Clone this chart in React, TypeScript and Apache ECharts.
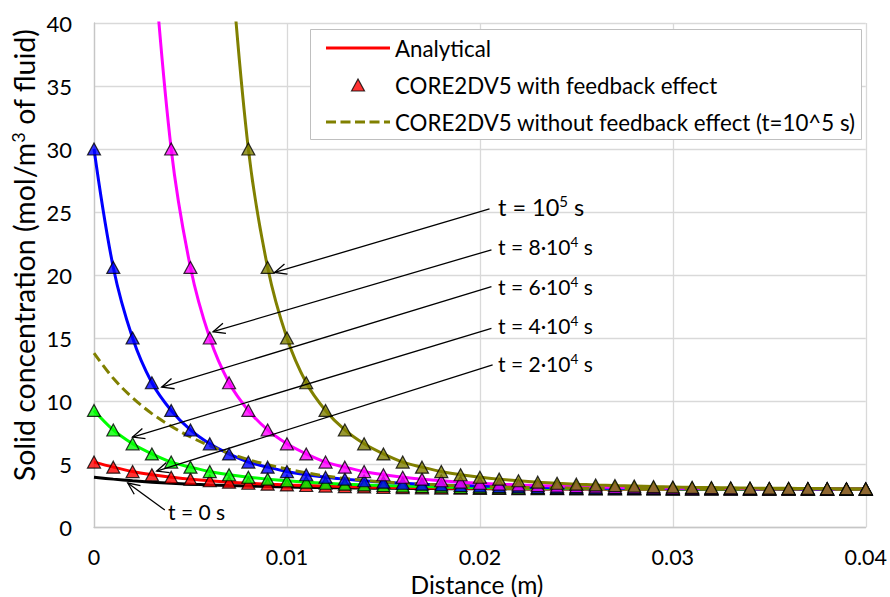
import React, { useEffect, useRef } from 'react';
import * as echarts from 'echarts';

// Distance (m)
const distance = [
  0, 0.001, 0.002, 0.003, 0.004, 0.005, 0.006, 0.007, 0.008, 0.009,
  0.01, 0.011, 0.012, 0.013, 0.014, 0.015, 0.016, 0.017, 0.018, 0.019,
  0.02, 0.021, 0.022, 0.023, 0.024, 0.025, 0.026, 0.027, 0.028, 0.029,
  0.03, 0.031, 0.032, 0.033, 0.034, 0.035, 0.036, 0.037, 0.038, 0.039, 0.04,
];

// t = 0 s (black)
const conc0 = [
  3.95, 3.8, 3.67, 3.56, 3.47, 3.4, 3.34, 3.29, 3.25, 3.21, 3.18, 3.15, 3.13, 3.11,
  3.09, 3.08, 3.07, 3.06, 3.05, 3.04, 3.04, 3.03, 3.03, 3.02, 3.02, 3.02, 3.01, 3.01,
  3.01, 3.01, 3.01, 3.0, 3.0, 3.0, 3.0, 3.0, 3.0, 3.0, 3.0, 3.0, 3.0,
];
// t = 2e4 s (red)
const conc2e4 = [
  5.15, 4.75, 4.4, 4.15, 3.95, 3.8, 3.67, 3.56, 3.47, 3.4, 3.34, 3.29, 3.25, 3.21,
  3.18, 3.15, 3.13, 3.11, 3.09, 3.08, 3.07, 3.06, 3.05, 3.04, 3.04, 3.03, 3.03, 3.02,
  3.02, 3.02, 3.01, 3.01, 3.01, 3.01, 3.01, 3.0, 3.0, 3.0, 3.0, 3.0, 3.0,
];
// t = 4e4 s (green)
const conc4e4 = [
  9.25, 7.7, 6.6, 5.8, 5.15, 4.75, 4.4, 4.15, 3.95, 3.8, 3.67, 3.56, 3.47, 3.4,
  3.34, 3.29, 3.25, 3.21, 3.18, 3.15, 3.13, 3.11, 3.09, 3.08, 3.07, 3.06, 3.05, 3.04,
  3.04, 3.03, 3.03, 3.02, 3.02, 3.02, 3.01, 3.01, 3.01, 3.01, 3.01, 3.0, 3.0,
];
// t = 6e4 s (blue)
const conc6e4 = [
  30, 20.6, 15.0, 11.45, 9.25, 7.7, 6.6, 5.8, 5.15, 4.75, 4.4, 4.15, 3.95, 3.8,
  3.67, 3.56, 3.47, 3.4, 3.34, 3.29, 3.25, 3.21, 3.18, 3.15, 3.13, 3.11, 3.09, 3.08,
  3.07, 3.06, 3.05, 3.04, 3.04, 3.03, 3.03, 3.02, 3.02, 3.02, 3.01, 3.01, 3.01,
];
// t = 8e4 s (magenta)
const conc8e4 = [
  null, null, null, 47, 30, 20.6, 15.0, 11.45, 9.25, 7.7, 6.6, 5.8, 5.15, 4.75,
  4.4, 4.15, 3.95, 3.8, 3.67, 3.56, 3.47, 3.4, 3.34, 3.29, 3.25, 3.21, 3.18, 3.15,
  3.13, 3.11, 3.09, 3.08, 3.07, 3.06, 3.05, 3.04, 3.04, 3.03, 3.03, 3.02, 3.02,
];
// t = 1e5 s (olive)
const conc1e5 = [
  null, null, null, null, null, null, null, 47, 30, 20.6, 15.0, 11.45, 9.25, 7.7,
  6.6, 5.8, 5.15, 4.75, 4.4, 4.15, 3.95, 3.8, 3.67, 3.56, 3.47, 3.4, 3.34, 3.29,
  3.25, 3.21, 3.18, 3.15, 3.13, 3.11, 3.09, 3.08, 3.07, 3.06, 3.05, 3.04, 3.04,
];
// CORE2DV5 without feedback effect, t = 1e5 s (olive dashed)
const concNoFeedback = [
  13.8, 11.8, 10.25, 9.0, 8.0, 7.15, 6.45, 5.85, 5.35, 4.95, 4.6, 4.3, 4.05, 3.85,
  3.7, 3.58, 3.48, 3.4, 3.33, 3.27, 3.22, 3.18, 3.15, 3.12, 3.1, 3.08, 3.07, 3.06,
  3.05, 3.04, 3.03, 3.03, 3.02, 3.02, 3.02, 3.01, 3.01, 3.01, 3.01, 3.0, 3.0,
];

const xTickLabels = ['0', '0.01', '0.02', '0.03', '0.04'];
const yTickLabels = ['0', '5', '10', '15', '20', '25', '30', '35', '40'];

const legendNames = [
  'Analytical',
  'CORE2DV5 with feedback effect',
  'CORE2DV5 without feedback effect (t=10^5 s)',
];

// annotation arrows: [tailX, tailY, tipX, tipY] in data units
const arrows = [
  [0.0205, 25.24, 0.00936, 20.2],
  [0.0206, 22.0, 0.00617, 15.5],
  [0.0206, 19.07, 0.00351, 11.1],
  [0.0206, 15.77, 0.002, 7.14],
  [0.02066, 12.86, 0.00325, 4.44],
  [0.00367, 1.35, 0.00175, 3.49],
];

const FONT = 'Lato, "Noto Sans", sans-serif';

function pairs(ys: (number | null)[]) {
  const out: number[][] = [];
  ys.forEach((y, i) => {
    if (y !== null) out.push([distance[i], y]);
  });
  return out;
}
function markerPairs(ys: (number | null)[]) {
  return pairs(ys).filter((p) => p[1] <= 40);
}

const curves = [
  { key: 't0', data: conc0, color: '#000000', markers: false },
  { key: 't2', data: conc2e4, color: '#ff0000', markers: true },
  { key: 't4', data: conc4e4, color: '#00ff00', markers: true },
  { key: 't6', data: conc6e4, color: '#0000ff', markers: true },
  { key: 't8', data: conc8e4, color: '#ff00ff', markers: true },
  { key: 't10', data: conc1e5, color: '#808000', markers: true },
];

export default function App() {
  const ref = useRef<HTMLDivElement>(null);
  useEffect(() => {
    if (!ref.current) return;
    const chart = echarts.init(ref.current, null, { renderer: 'svg' });

    const series: any[] = [];
    curves.forEach((c) => {
      series.push({
        type: 'line',
        name: c.key === 't2' ? legendNames[0] : 'line-' + c.key,
        data: pairs(c.data),
        symbol: 'none',
        smooth: 0.35,
        color: c.color,
        lineStyle: { color: c.color, width: 3 },
        z: 2,
        silent: true,
      });
    });
    series.push({
      type: 'line',
      name: legendNames[2],
      data: pairs(concNoFeedback),
      symbol: 'none',
      smooth: 0.35,
      color: '#808000',
      lineStyle: { color: '#808000', width: 3, type: [10, 5] },
      z: 3,
      silent: true,
    });
    curves.forEach((c) => {
      if (!c.markers) return;
      series.push({
        type: 'scatter',
        name: c.key === 't2' ? legendNames[1] : 'mk-' + c.key,
        data: markerPairs(c.data),
        symbol: 'triangle',
        symbolSize: [13, 12],
        color: c.color,
        itemStyle: { color: c.color, borderColor: '#000', borderWidth: 1.2 },
        z: 4,
        silent: true,
      });
    });
    series.push({
      type: 'custom',
      name: 'arrows',
      data: arrows,
      encode: { x: [0, 2], y: [1, 3] },
      clip: false,
      silent: true,
      z: 6,
      renderItem: (params: any, api: any) => {
        const p1 = api.coord([api.value(0), api.value(1)]);
        const p2 = api.coord([api.value(2), api.value(3)]);
        const ang = Math.atan2(p1[1] - p2[1], p1[0] - p2[0]);
        const L = 13;
        const spread = 0.42;
        const a1 = [p2[0] + L * Math.cos(ang + spread), p2[1] + L * Math.sin(ang + spread)];
        const a2 = [p2[0] + L * Math.cos(ang - spread), p2[1] + L * Math.sin(ang - spread)];
        return {
          type: 'group',
          children: [
            {
              type: 'line',
              shape: { x1: p1[0], y1: p1[1], x2: p2[0], y2: p2[1] },
              style: { stroke: '#000', lineWidth: 1.3 },
            },
            {
              type: 'polyline',
              shape: { points: [a1, p2, a2] },
              style: { stroke: '#000', fill: null, lineWidth: 1.3 },
            },
          ],
        };
      },
    });

    const mainRich = (size: number, supSize: number, lh: number) => ({
      a: { fontSize: size, fontFamily: FONT, fill: '#000', lineHeight: lh },
      s: { fontSize: supSize, fontFamily: FONT, fill: '#000', lineHeight: supSize, verticalAlign: 'top' },
    });

    const labelTexts = [
      { x: 498, y: 206.7, text: '{a|t = 10}{s|5}{a| s}', size: 23.5, sup: 15 },
      { x: 498, y: 246.7, text: '{a|t = 8·10}{s|4}{a| s}', size: 21, sup: 13.5 },
      { x: 498, y: 286, text: '{a|t = 6·10}{s|4}{a| s}', size: 21, sup: 13.5 },
      { x: 498, y: 325, text: '{a|t = 4·10}{s|4}{a| s}', size: 21, sup: 13.5 },
      { x: 498, y: 363, text: '{a|t = 2·10}{s|4}{a| s}', size: 21, sup: 13.5 },
      { x: 168, y: 511.7, text: '{a|t = 0 s}', size: 21, sup: 13.5 },
    ];

    const graphic: any[] = [
      {
        type: 'rect',
        shape: { x: 310.5, y: 29.5, width: 551, height: 110 },
        style: { fill: '#fff', stroke: '#bfbfbf', lineWidth: 1 },
        z: 8,
        silent: true,
      },
      ...labelTexts.map((t) => ({
        type: 'text',
        x: t.x,
        y: t.y,
        z: 9,
        silent: true,
        style: {
          text: t.text,
          align: 'left',
          verticalAlign: 'middle',
          rich: mainRich(t.size, t.sup, t.size + 2),
        },
      })),
      {
        type: 'text',
        x: 24,
        y: 255,
        rotation: Math.PI / 2,
        z: 9,
        silent: true,
        style: {
          text: '{a|Solid concentration (mol/m}{s|3}{a| of fluid)}',
          align: 'center',
          verticalAlign: 'middle',
          rich: mainRich(28.5, 18, 31),
        },
      },
      {
        type: 'text',
        x: 477,
        y: 584,
        z: 9,
        silent: true,
        style: {
          text: 'Distance (m)',
          align: 'center',
          verticalAlign: 'middle',
          fontSize: 24.5,
          fontFamily: FONT,
          fill: '#000',
        },
      },
    ];

    const lineIcon = 'path://M0,0h64v3h-64z';
    const dashIcon =
      'path://M0,0h10v3h-10z M14.5,0h10v3h-10z M29,0h10v3h-10z M43.5,0h10v3h-10z M58,0h6v3h-6z';
    const triIcon = 'path://M0,12L6.5,0L13,12Z';

    chart.setOption({
      animation: false,
      backgroundColor: '#fff',
      grid: { left: 94, right: 24, top: 23, bottom: 70, containLabel: false },
      xAxis: {
        type: 'value',
        min: 0,
        max: 0.04,
        interval: 0.01,
        axisLine: { show: true, onZero: false, lineStyle: { color: '#c6c6c6', width: 1.3 } },
        axisTick: { show: false },
        axisLabel: {
          margin: 19,
          fontSize: 21.5,
          fontFamily: FONT,
          color: '#000',
          formatter: (v: number) => xTickLabels[Math.round(v / 0.01)] ?? '',
        },
        splitLine: { show: true, lineStyle: { color: '#d9d9d9', width: 1.3 } },
      },
      yAxis: {
        type: 'value',
        min: 0,
        max: 40,
        interval: 5,
        axisLine: { show: true, onZero: false, lineStyle: { color: '#c6c6c6', width: 1.3 } },
        axisTick: { show: false },
        axisLabel: {
          margin: 22,
          fontSize: 22,
          fontFamily: FONT,
          color: '#000',
          formatter: (v: number) => yTickLabels[Math.round(v / 5)] ?? '',
        },
        splitLine: { show: true, lineStyle: { color: '#d9d9d9', width: 1.3 } },
      },
      legend: {
        data: [
          { name: legendNames[0], icon: lineIcon, itemStyle: { color: '#ff0000', borderWidth: 0 } },
          {
            name: legendNames[1],
            icon: triIcon,
            itemStyle: { color: '#ff0000', borderColor: '#000', borderWidth: 1.2 },
          },
          { name: legendNames[2], icon: dashIcon, itemStyle: { color: '#808000', borderWidth: 0 } },
        ],
        orient: 'vertical',
        left: 326,
        top: 37,
        padding: 0,
        itemGap: 15,
        itemWidth: 64,
        itemHeight: 12,
        selectedMode: false,
        z: 10,
        textStyle: { fontSize: 22.3, fontFamily: FONT, color: '#000', lineHeight: 22 },
      },
      graphic,
      series,
    });
    return () => chart.dispose();
  }, []);
  return (
    <div
      ref={ref}
      style={{ position: 'fixed', left: 0, top: 0, width: 890, height: 597, background: '#fff' }}
    />
  );
}
